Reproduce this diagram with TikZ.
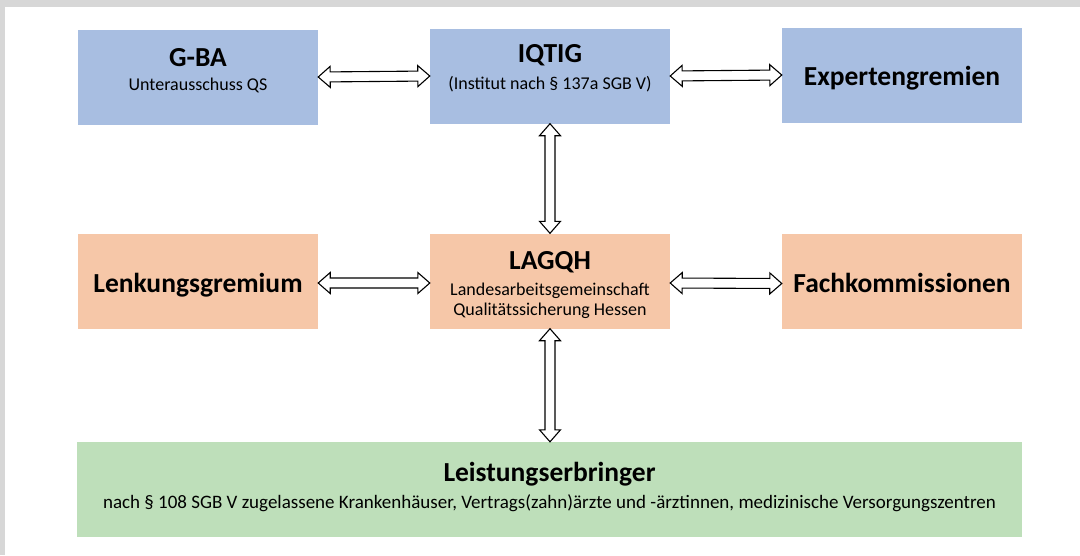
\documentclass[tikz,border=0pt]{standalone}
\usepackage{fontspec}
\setmainfont{Carlito}
\usetikzlibrary{calc}
\definecolor{boxblue}{RGB}{168,190,225}
\definecolor{boxorange}{RGB}{246,199,168}
\definecolor{boxgreen}{RGB}{190,223,186}
\definecolor{framegray}{RGB}{215,215,215}
\tikzset{
  box/.style={minimum width=240pt, minimum height=95pt, inner sep=0pt, draw=none},
  bluebox/.style={box, fill=boxblue},
  orangebox/.style={box, fill=boxorange},
  greenbox/.style={box, fill=boxgreen},
  titletext/.style={font=\bfseries\fontsize{27.5}{32}\selectfont, inner sep=0pt, anchor=base},
  subtext/.style={font=\fontsize{18}{21}\selectfont, inner sep=0pt, anchor=base},
  barrow/.style={draw=black, line width=1.1pt, fill=white, line join=miter,
    to path={
      -- ($(\tikztostart)!12pt!(\tikztotarget)!10.5pt!90:(\tikztotarget)$)
      -- ($(\tikztostart)!12pt!(\tikztotarget)!5pt!90:(\tikztotarget)$)
      -- ($(\tikztotarget)!12pt!(\tikztostart)!5pt!-90:(\tikztostart)$)
      -- ($(\tikztotarget)!12pt!(\tikztostart)!10.5pt!-90:(\tikztostart)$)
      -- (\tikztotarget)
      -- ($(\tikztotarget)!12pt!(\tikztostart)!10.5pt!90:(\tikztostart)$)
      -- ($(\tikztotarget)!12pt!(\tikztostart)!5pt!90:(\tikztostart)$)
      -- ($(\tikztostart)!12pt!(\tikztotarget)!5pt!-90:(\tikztotarget)$)
      -- ($(\tikztostart)!12pt!(\tikztotarget)!10.5pt!-90:(\tikztotarget)$)
      -- cycle}}
}
\begin{document}
\begin{tikzpicture}[x=1pt,y=-1pt]
\useasboundingbox (0,0) rectangle (1080,555);
\fill[framegray] (0,0) rectangle (1080,555);
\fill[white] (5,7) rectangle (1080,555);

% boxes
\node[bluebox] (gba) at (198,77) {};
\node[bluebox] (iqtig) at (550,76) {};
\node[bluebox] (exp) at (902,75) {};
\node[orangebox] (lenk) at (198,281) {};
\node[orangebox] (lagqh) at (550,281) {};
\node[orangebox] (fach) at (902,281.5) {};
\node[greenbox, minimum width=945pt] (le) at (549.5,489.5) {};

% texts
\node[titletext] (gbaT) at (198,66.5) {G-BA};
\node[subtext] (gbaS) at (198,90) {Unterausschuss QS};
\node[titletext] (iqtigT) at (550,62.5) {IQTIG};
\node[subtext] (iqtigS) at (550,89) {(Institut nach § 137a SGB V)};
\node[titletext] (expT) at (902,85.5) {Expertengremien};
\node[titletext] (lenkT) at (198,292) {Lenkungsgremium};
\node[titletext] (fachT) at (902,292) {Fachkommissionen};
\node[titletext] (lagqhT) at (550,269) {LAGQH};
\node[subtext] (lagqhS1) at (550,295.5) {Landesarbeitsgemeinschaft};
\node[subtext] (lagqhS2) at (550,315) {Qualitätssicherung Hessen};
\node[titletext] (leT) at (549.5,481.5) {Leistungserbringer};
\node[subtext, font=\fontsize{19}{22}\selectfont] (leS) at (549.5,508.5) {nach § 108 SGB V zugelassene Krankenhäuser, Vertrags(zahn)ärzte und -ärztinnen, medizinische Versorgungszentren};

% connectors
\draw[barrow] (gba.east) to (iqtig.west);
\draw[barrow] (iqtig.east) to (exp.west);
\draw[barrow] (iqtig.south) to (lagqh.north);
\draw[barrow] ([yshift=-2pt]lenk.east) to ([yshift=-2pt]lagqh.west);
\draw[barrow] ([yshift=-2pt]lagqh.east) to ([yshift=-2pt]fach.west);
\draw[barrow] (lagqh.south) to (le.north -| lagqh.south);
\end{tikzpicture}
\end{document}
